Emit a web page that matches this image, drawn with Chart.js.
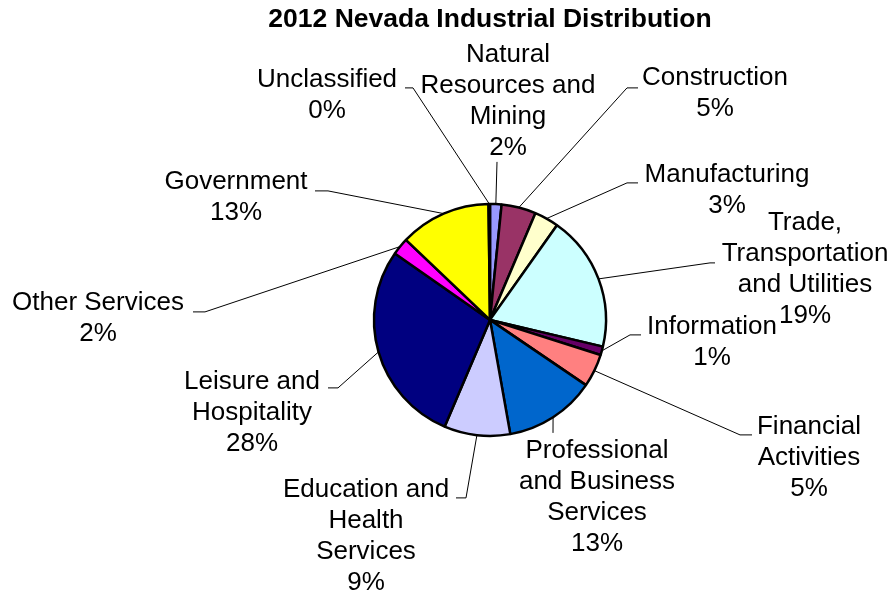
<!DOCTYPE html>
<html>
<head>
<meta charset="utf-8">
<title>2012 Nevada Industrial Distribution</title>
<script src="https://cdn.jsdelivr.net/npm/chart.js@4"></script>
<style>
    html, body { margin: 0; padding: 0; background: #fff; }
    #wrap { width: 892px; height: 594px; }
</style>
</head>
<body>
<div id="wrap"><canvas id="pie-chart"></canvas></div>
<script>
// --- Data ---
const categories = [
    ['Natural', 'Resources and', 'Mining'],
    ['Construction'],
    ['Manufacturing'],
    ['Trade,', 'Transportation', 'and Utilities'],
    ['Information'],
    ['Financial', 'Activities'],
    ['Professional', 'and Business', 'Services'],
    ['Education and', 'Health', 'Services'],
    ['Leisure and', 'Hospitality'],
    ['Other Services'],
    ['Government'],
    ['Unclassified']
];
const shares = [1.6, 4.8, 3.4, 18.9, 1.2, 4.6, 12.7, 9.2, 28.3, 2.4, 12.7, 0.2];

const sliceColors = [
    '#9999FF', '#993366', '#FFFFCC', '#CCFFFF', '#660066', '#FF8080',
    '#0066CC', '#CCCCFF', '#000080', '#FF00FF', '#FFFF00', '#00FFFF'
];

// label placement, offsets from the pie centre: text centre of first line + leader bends
const labelLayout = [
    { text: [18, -265],   leader: [[7, -158]] },
    { text: [225, -242],  leader: [[137, -232], [148, -232]] },
    { text: [237, -145],  leader: [[137, -137], [148, -137]] },
    { text: [315, -97],   leader: [[220, -57], [225, -57]] },
    { text: [222, 7],     leader: [[140, 15], [151, 15]] },
    { text: [319, 107],   leader: [[250, 115], [262, 115]] },
    { text: [107, 131],   leader: [[63, 113]] },
    { text: [-124, 170],  leader: [[-24, 178], [-34, 178]] },
    { text: [-238, 62],   leader: [[-152, 68], [-162, 68]] },
    { text: [-392, -17],  leader: [[-285, -8], [-297, -8]] },
    { text: [-254, -138], leader: [[-162, -129], [-175, -129]] },
    { text: [-163, -240], leader: [[-77, -232], [-85, -232]] }
];

const FONT = '"Liberation Sans", Arial, sans-serif';
const LINE_HEIGHT = 31;

// draws the category + percent labels with their leader lines
const pieLabels = {
    id: 'pieLabels',
    afterDatasetsDraw(chart) {
        const ctx = chart.ctx;
        const arcs = chart.getDatasetMeta(0).data;
        const total = shares.reduce((a, b) => a + b, 0);
        ctx.save();
        arcs.forEach((arc, i) => {
            const layout = labelLayout[i];
            const cx = arc.x, cy = arc.y;
            const mid = (arc.startAngle + arc.endAngle) / 2;

            // leader line
            ctx.strokeStyle = '#000';
            ctx.lineWidth = 1;
            ctx.beginPath();
            ctx.moveTo(cx + Math.cos(mid) * arc.outerRadius, cy + Math.sin(mid) * arc.outerRadius);
            layout.leader.forEach(p => ctx.lineTo(cx + p[0], cy + p[1]));
            ctx.stroke();

            // text
            const lines = categories[i].concat([Math.round(shares[i] / total * 100) + '%']);
            ctx.fillStyle = '#000';
            ctx.font = '26px ' + FONT;
            ctx.textAlign = 'center';
            ctx.textBaseline = 'middle';
            lines.forEach((line, j) => {
                ctx.fillText(line, cx + layout.text[0], cy + layout.text[1] + j * LINE_HEIGHT);
            });
        });
        ctx.restore();
    }
};

const pieCanvas = document.getElementById('pie-chart');
const pieChart = new Chart(pieCanvas.getContext('2d'), {
    type: 'pie',
    data: {
        labels: categories,
        datasets: [{
            data: shares,
            backgroundColor: sliceColors,
            borderColor: '#000',
            borderWidth: 2.5,
            radius: 116
        }]
    },
    options: {
        responsive: true,
        maintainAspectRatio: false,
        animation: false,
        events: [],
        layout: {
            padding: { left: 98, right: 10, top: 0, bottom: 9 }
        },
        plugins: {
            legend: { display: false },
            tooltip: { enabled: false },
            title: {
                display: true,
                text: '2012 Nevada Industrial Distribution',
                color: '#000',
                font: { family: FONT, size: 26.5, weight: 'bold', lineHeight: 1.2 },
                padding: { top: 4, bottom: 19 }
            }
        }
    },
    plugins: [pieLabels]
});
</script>
</body>
</html>
